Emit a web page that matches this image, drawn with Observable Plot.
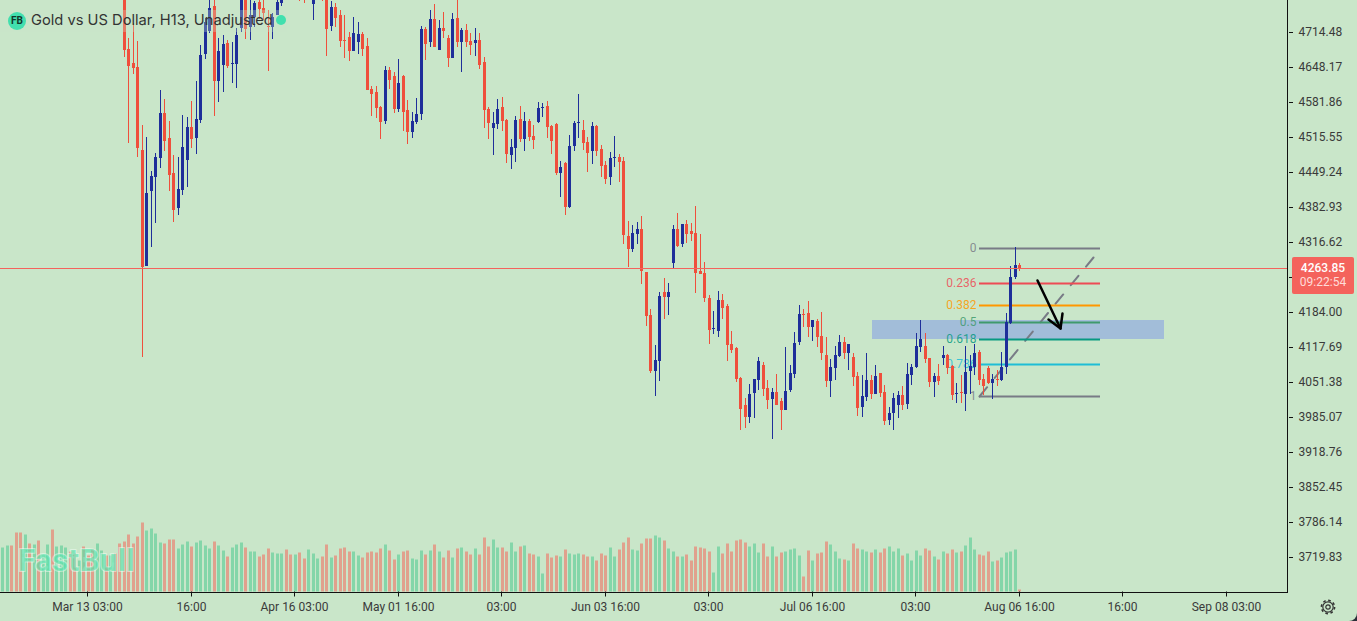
<!DOCTYPE html>
<html>
<head>
<meta charset="utf-8">
<script src="https://cdn.jsdelivr.net/npm/d3@7"></script>
<script src="https://cdn.jsdelivr.net/npm/@observablehq/plot@0.6"></script>
<style>
html,body{margin:0;padding:0;background:#2a2e39;overflow:hidden}
#wrap{position:relative;width:1357px;height:621px;background:#c9e6c9;border-bottom-right-radius:8px;overflow:hidden;font-family:Roboto,sans-serif}
#wrap svg.p{position:absolute;left:0;top:0}
.abs{position:absolute}
</style>
</head>
<body>
<div id="wrap"></div>
<script>
// candles start at this bar index; earlier bars lie above the visible price range
const firstCandle = 27;
const high = [
4813,4703,4732,4697,4538,4516,4451,4485,4605,4588,
4546,4481,4478,4557,4553,4584,4622,4690,4741,4794,
4781,4703,4709,4699,4696,4722,4781,4781,4781,4773,
4781,4781,4756,4750,4781,4785,null,null,null,4794,
4794,null,4790,null,4790,4790,4773,4769,4756,4747,
4714,4743,4733,4714,4703,4612,4612,4574,4650,4648,
4639,4663,4633,4586,4563,4589,4726,4724,4756,4768,
4737,4752,4709,4750,4777,4722,4730,4713,4722,4713,
4667,4572,4563,4588,4591,4550,4512,4555,4574,4563,
4550,4538,4582,4580,4584,4538,4542,4470,4468,4519,
4546,4597,4548,4516,4544,4538,4500,4470,4487,4517,
4483,4478,4356,4349,4354,4366,4260,4190,4121,4222,
4248,4239,4349,4372,4351,4358,4353,4385,4332,4279,
4216,4186,4224,4218,4199,4148,4118,4061,4021,4048,
4057,4099,4089,4055,4040,4066,4021,4118,4084,4146,
4197,4190,4205,4169,4171,4184,4137,4095,4120,4140,
4137,4123,4106,4070,4065,4106,4065,4084,4068,4046,
4004,4031,4034,4044,4087,4086,4144,4169,4144,4097,
4068,4086,4120,4104,4084,4049,4065,4120,4103,4123,
4112,4066,4082,4066,4074,4108,4182,4271,4307,4277];
const bodyHigh = [
4794,4682,4656,4648,4491,4409,4442,4478,4561,4561,
4514,4447,4417,4497,4534,4534,4550,4671,4733,4760,
4764,4678,4692,4694,4656,4709,4781,4781,4747,4769,
4771,4760,4726,4743,4771,4781,null,null,null,4790,
4790,null,4785,null,4785,4785,4762,4762,4747,4699,
4705,4713,4711,4711,4688,4606,4601,4572,4642,4642,
4631,4618,4631,4567,4546,4559,4720,4720,4739,4739,
4722,4722,4703,4739,4741,4718,4718,4697,4699,4699,
4658,4569,4542,4569,4572,4548,4497,4548,4550,4546,
4546,4517,4570,4572,4574,4536,4540,4459,4466,4499,
4542,4544,4529,4506,4536,4536,4493,4462,4476,4478,
4478,4470,4328,4334,4341,4341,4260,4178,4093,4214,
4222,4222,4341,4341,4351,4351,4337,4334,4262,4258,
4210,4154,4207,4207,4195,4123,4116,4059,4008,4029,
4057,4091,4084,4040,4032,4032,4015,4034,4068,4125,
4180,4180,4182,4169,4167,4139,4103,4080,4103,4127,
4127,4123,4099,4063,4025,4055,4055,4063,4068,4032,
3993,4021,4027,4027,4066,4080,4120,4133,4120,4097,
4063,4063,4103,4103,4082,4031,4033,4070,4082,4106,
4108,4057,4078,4057,4057,4080,4165,4250,4273,4273];
const bodyLow = [
4680,4650,4646,4495,4269,4271,4413,4440,4476,4508,
4444,4377,4381,4415,4472,4512,4514,4548,4673,4716,
4622,4622,4652,4650,4654,4654,4722,4720,4724,4743,
4758,4750,4724,4724,4747,4769,null,null,null,4785,
4785,null,4768,null,4781,4720,4726,4741,4697,4697,
4678,4678,4696,4682,4605,4597,4570,4544,4546,4624,
4569,4569,4563,4525,4525,4544,4559,4692,4696,4686,
4680,4716,4665,4665,4696,4696,4696,4690,4694,4652,
4567,4542,4533,4540,4546,4483,4481,4495,4512,4512,
4516,4510,4544,4570,4534,4508,4447,4447,4383,4383,
4499,4542,4504,4485,4489,4489,4461,4436,4440,4476,
4468,4330,4303,4303,4332,4262,4176,4072,4072,4091,
4212,4212,4277,4309,4313,4332,4332,4258,4256,4210,
4150,4152,4148,4192,4121,4112,4057,4000,3985,3985,
4031,4055,4038,4017,4019,4008,3998,3998,4036,4066,
4127,4178,4156,4156,4137,4106,4053,4053,4078,4101,
4106,4106,4061,4002,4004,4023,4029,4029,4031,3977,
3979,3993,4008,4008,4010,4065,4080,4118,4095,4051,
4051,4053,4097,4078,4027,4029,4031,4029,4072,4080,
4055,4044,4049,4049,4055,4055,4080,4163,4250,4267];
const low = [
4667,4504,4635,4478,4099,4271,4307,4353,4457,4489,
4413,4354,4368,4406,4421,4495,4483,4542,4663,4713,
4555,4582,4601,4646,4618,4608,4714,4701,4699,4724,
4739,4737,4641,4701,4747,4764,null,null,null,4773,
4769,null,4737,null,4773,4669,4716,4724,4686,4665,
4660,4678,4673,4669,4605,4555,4552,4512,4540,4606,
4561,4563,4527,4502,4514,4540,4548,4661,4686,4686,
4680,4703,4648,4665,4686,4639,4686,4671,4669,4644,
4533,4512,4481,4531,4527,4466,4455,4468,4506,4489,
4508,4493,4542,4553,4514,4483,4444,4402,4368,4381,
4489,4514,4491,4449,4464,4480,4440,4426,4425,4459,
4430,4313,4269,4298,4313,4237,4157,4068,4025,4053,
4171,4178,4267,4307,4307,4315,4319,4220,4256,4203,
4123,4142,4137,4171,4091,4106,4051,3960,3964,3974,
3983,4036,4025,4000,3943,4008,3960,3998,4032,4059,
4121,4156,4137,4129,4118,4093,4042,4023,4055,4099,
4095,4074,4044,3987,3985,4015,4019,4029,4023,3970,
3970,3960,3983,3998,4000,4046,4078,4108,4087,4042,
4023,4046,4084,4066,4017,4012,4012,3996,4029,4065,
4046,4027,4048,4019,4044,4053,4066,4161,4246,4262];
// 1 = rising bar, 0 = falling bar, for every bar from index 0
const rising = [
1,1,0,0,0,1,0,1,0,1,1,0,1,1,1,0,0,1,0,0,0,1,1,0,1,0,0,
0,0,0,0,0,1,1,1,1,0,
0,0,1,1,1,0,1,1,1,1,
0,1,1,0,1,1,1,0,1,1,
0,0,0,1,1,1,0,0,1,0,
0,1,1,1,0,0,1,0,0,0,
0,1,1,0,0,0,0,0,1,0,
0,1,0,0,1,1,1,0,1,0,
1,0,0,1,0,1,0,0,1,0,
0,0,1,1,0,0,1,1,0,1,
0,0,1,1,0,0,0,1,0,1,
1,1,0,0,1,0,0,0,1,1,
0,0,0,1,1,0,0,0,1,1,
0,1,1,0,1,0,0,0,0,0,
0,1,1,0,0,0,0,0,0,1,
1,1,0,0,1,0,0,1,1,1,
1,0,0,1,0,0,0,1,1,1,
0,1,0,0,1,1,0,1,0,0,
1,1,1,0,1,1,1,1,0,0,
1,0,1,0,0,1,0,1,1,1,
0,0,0,1,0,1,1,1,1,0];
const volume = [
44,46,46,59,59,57,48,47,51,36,47,62,45,46,44,40,38,31,45,36,42,48,41,36,36,38,48,
50,57,48,55,69,61,63,58,49,48,52,52,43,47,50,45,49,51,46,43,
50,46,41,35,44,47,49,44,40,40,35,37,43,39,38,38,42,37,37,39,33,42,38,33,35,47,34,36,
43,44,40,40,36,34,39,40,39,43,47,41,32,37,40,41,33,32,41,37,41,47,40,34,41,34,43,44,40,37,43,37,
54,45,52,44,44,40,49,40,45,46,38,37,35,18,38,34,36,35,42,38,37,38,37,35,35,31,38,36,44,35,42,49,54,42,41,48,53,53,56,54,51,43,40,35,
35,37,31,45,44,43,40,19,45,38,48,40,51,52,49,45,48,39,48,35,45,35,39,40,42,43,36,15,41,31,38,39,50,47,40,33,32,31,48,43,42,40,39,42,39,43,45,40,43,36,38,31,41,36,43,41,35,32,40,38,42,39,40,46,54,42,37,36,40,30,31,34,39,40,42,2];
const priceTicks = [4714.48,4648.17,4581.86,4515.55,4449.24,4382.93,4316.62,4250.31,4184.00,4117.69,4051.38,3985.07,3918.76,3852.45,3786.14,3719.83];
const hiddenPriceLabel = 4250.31; // covered by the last-price box in the reference
const timeTickBars = [18.9,41.9,64.9,87.9,110.9,133.9,156.9,179.9,202.9,225.9,248.9,271.9];
const timeTickLabels = ["Mar 13 03:00","16:00","Apr 16 03:00","May 01 16:00","03:00","Jun 03 16:00","03:00","Jul 06 16:00","03:00","Aug 06 16:00","16:00","Sep 08 03:00"];
const fibLevels = ["0","0.236","0.382","0.5","0.618","0.786","1"];
const fibPrices = [4305.5,4239.3,4198.4,4165.35,4132.3,4085.2,4025.2];
const fibColors = ["#787b86","#ee4b55","#ff9800","#3f9a6c","#089981","#1fbdd6","#787b86"];
const fibStartBar = 217, fibEndBar = 244;
const zoneBars = [193.3,258.3], zonePrices = [4169.1,4133.7];
const trendBars = [217,242.5], trendPrices = [4025.2,4288.5];
const arrowShaftBars = [230,235], arrowShaftPrices = [4244.9,4153.4];
const arrowHeadBars = [232.4,235,235.5], arrowHeadPrices = [4170.4,4153.4,4181.8];
const lastPriceLine = 4267, lastPriceText = "4263.85", countdownText = "09:22:54";

const candles = high.map((h,k)=>({i:firstCandle+k,h,l:low[k],t:bodyHigh[k],b:bodyLow[k],up:rising[firstCandle+k]})).filter(d=>d.h!=null);
const bars = volume.map((v,i)=>({i,v,up:rising[i]}));
const fib = fibLevels.map((label,n)=>({label,price:fibPrices[n],color:fibColors[n]}));

const RED="#ef4f3c", BLUE="#1e2e9a", GREEN_V="#84d6a9", RED_V="#e0a18d";
const W=1357,H=621,plotR=1288,plotB=591.5;
const xScale={domain:[-0.4667,285.756],range:[0,plotR],round:true};
const priceDomain=[3654.74,4775.4];
const common={width:W,height:H,marginLeft:0,marginRight:W-plotR,marginTop:0,marginBottom:H-plotB,
  style:{background:"transparent",fontFamily:"Roboto,sans-serif",fontSize:"12px",overflow:"hidden"}};

const volPlot=Plot.plot({...common,x:{...xScale,axis:null},y:{domain:[0,plotB],range:[plotB,0],axis:null},marks:[
  Plot.ruleX(bars.filter(d=>d.up),{x:"i",y1:0,y2:"v",stroke:GREEN_V,strokeWidth:3}),
  Plot.ruleX(bars.filter(d=>!d.up),{x:"i",y1:0,y2:"v",stroke:RED_V,strokeWidth:3})
]});
volPlot.classList.add("p");

const ups=candles.filter(d=>d.up),downs=candles.filter(d=>!d.up);
const pricePlot=Plot.plot({...common,x:{...xScale},y:{domain:priceDomain,range:[plotB,0],round:true},marks:[
  Plot.axisY({anchor:"right",ticks:priceTicks,tickFormat:d=>d===hiddenPriceLabel?"":d.toFixed(2),tickSize:4,tickPadding:6,label:null,fill:"#3a3a3a",stroke:"#111",fontSize:12}),
  Plot.axisX({anchor:"bottom",ticks:timeTickBars,tickFormat:d=>timeTickLabels[timeTickBars.indexOf(d)],tickSize:5,tickPadding:5,label:null,fill:"#3a3a3a",stroke:"#111",fontSize:12}),
  Plot.rect([0],{x1:()=>zoneBars[0],x2:()=>zoneBars[1],y1:()=>zonePrices[0],y2:()=>zonePrices[1],fill:"rgb(137,162,228)",fillOpacity:0.6}),
  Plot.line(trendBars.map((x,n)=>({x,y:trendPrices[n]})),{x:"x",y:"y",stroke:"#787b86",strokeWidth:2,strokeDasharray:"12,12"}),
  Plot.ruleY(fib,{y:"price",x1:fibStartBar,x2:fibEndBar,stroke:"color",strokeWidth:2}),
  Plot.text(fib,{x:fibStartBar,y:"price",text:"label",fill:"color",textAnchor:"end",dx:-3,fontSize:12,fillOpacity:0.85}),
  Plot.ruleX(ups,{x:"i",y1:"l",y2:"h",stroke:BLUE,strokeWidth:1}),
  Plot.ruleX(downs,{x:"i",y1:"l",y2:"h",stroke:RED,strokeWidth:1}),
  Plot.ruleX(ups,{x:"i",y1:"b",y2:"t",stroke:BLUE,strokeWidth:3}),
  Plot.ruleX(downs,{x:"i",y1:"b",y2:"t",stroke:RED,strokeWidth:3}),
  Plot.line(arrowShaftBars.map((x,n)=>({x,y:arrowShaftPrices[n]})),{x:"x",y:"y",stroke:"#000",strokeWidth:2.5}),
  Plot.line(arrowHeadBars.map((x,n)=>({x,y:arrowHeadPrices[n]})),{x:"x",y:"y",stroke:"#000",strokeWidth:2.5}),
  Plot.ruleY([lastPriceLine],{stroke:"#f4635c",strokeWidth:1}),
  Plot.ruleX([0],{x:()=>285.756,y1:priceDomain[0],y2:priceDomain[1],stroke:"#111",strokeWidth:1,dx:-1}),
  Plot.ruleY([priceDomain[0]],{stroke:"#111",strokeWidth:1})
]});
pricePlot.classList.add("p");

const wrap=document.getElementById("wrap");
wrap.append(volPlot);
function div(css,html){const e=document.createElement("div");e.className="abs";e.style.cssText=css;if(html!=null)e.innerHTML=html;wrap.append(e);return e;}
div("left:18px;top:541px;font:700 31px/40px Roboto,sans-serif;letter-spacing:0.5px;color:rgba(80,226,170,.6);-webkit-text-stroke:2px rgba(240,252,244,.5);paint-order:stroke fill;white-space:nowrap","FastBull");
wrap.append(pricePlot);
div("left:0;top:10px;width:287px;height:22px;background:rgba(201,230,201,.3)");
div("left:8px;top:12px;width:18px;height:18px;border-radius:50%;background:#42dfae;color:#12352a;font:700 10px/18px Roboto,sans-serif;text-align:center","FB");
div("left:31px;top:10px;font:400 14.7px/20px Inter,sans-serif;color:#333;white-space:nowrap","Gold vs US Dollar, H13, Unadjusted");
div("left:276px;top:15px;width:10px;height:10px;border-radius:50%;background:#41e0ae");
div("left:1292px;top:257px;width:62px;height:37px;border-radius:2px;background:#f4635c;color:#fff;text-align:center;font:500 12px/14px Roboto,sans-serif;padding-top:4px;box-sizing:border-box",lastPriceText+'<br><span style="color:#ffdcd8;font-weight:400">'+countdownText+'</span>');
div("left:1320px;top:599px;width:16px;height:16px",'<svg width="16" height="16" viewBox="0 0 16 16" fill="none" stroke="#333"><circle cx="8" cy="8" r="5.2" stroke-width="1.2"/><circle cx="8" cy="8" r="6.6" stroke-width="1.6" stroke-dasharray="2.6,2.58"/><circle cx="8" cy="8" r="2.2" stroke-width="1.2"/></svg>');
</script>
</body>
</html>
